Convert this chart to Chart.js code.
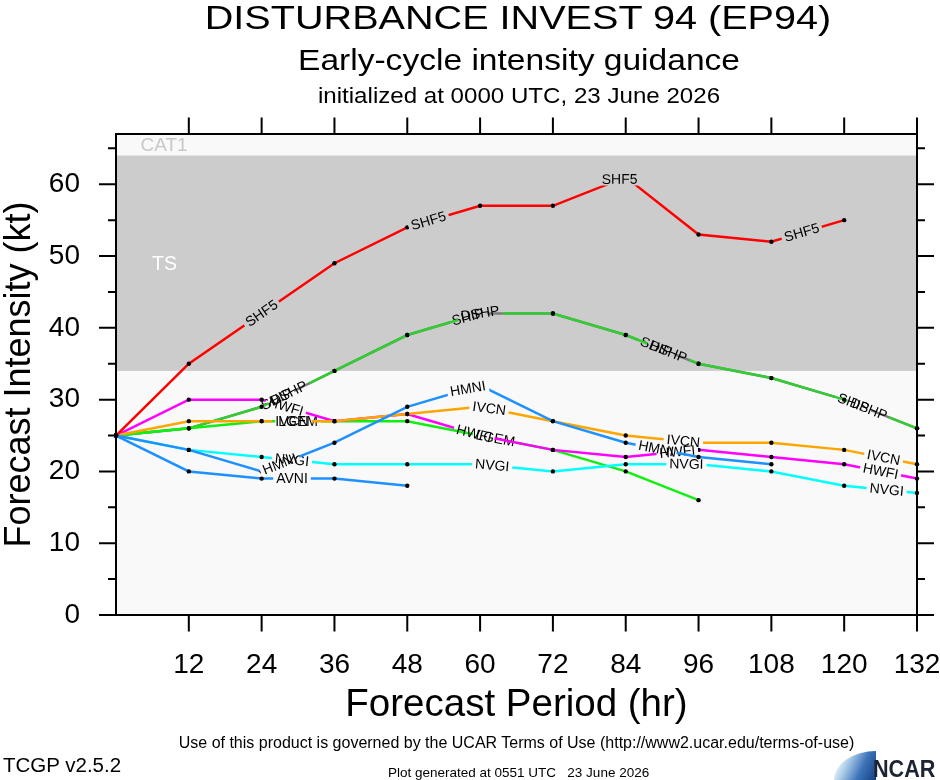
<!DOCTYPE html>
<html><head><meta charset="utf-8">
<script src="https://cdn.jsdelivr.net/npm/chart.js@4.4.1/dist/chart.umd.min.js"></script>
<style>
html,body{margin:0;padding:0;background:#fff;}
#wrap{position:relative;width:940px;height:780px;overflow:hidden;font-family:"Liberation Sans",Arial,Helvetica,sans-serif;color:#000;}
canvas{position:absolute;left:0;top:0;}
.t{position:absolute;white-space:pre;line-height:1;}
.c{transform-origin:50% 50%;}
</style></head><body>
<div id="wrap">
<canvas id="c" width="940" height="780"></canvas>
<div class="t c" style="left:518px;top:1.4px;font-size:33px;transform:translateX(-50%) scaleX(1.2);">DISTURBANCE INVEST 94 (EP94)</div>
<div class="t c" style="left:519px;top:46.2px;font-size:29px;transform:translateX(-50%) scaleX(1.157);">Early-cycle intensity guidance</div>
<div class="t c" style="left:519px;top:84.7px;font-size:22px;transform:translateX(-50%) scaleX(1.096);">initialized at 0000 UTC, 23 June 2026</div>
<div class="t c" style="left:516.5px;top:734.5px;font-size:16px;transform:translateX(-50%);">Use of this product is governed by the UCAR Terms of Use (http://www2.ucar.edu/terms-of-use)</div>
<div class="t" style="left:3px;top:754.6px;font-size:20.5px;">TCGP v2.5.2</div>
<div class="t" style="left:388px;top:765.6px;font-size:13.5px;">Plot generated at 0551 UTC   23 June 2026</div>
<div style="position:absolute;left:834px;top:751px;width:42px;height:29px;border-top-left-radius:42px 29px;background:linear-gradient(115deg,rgba(255,255,255,0) 10%,#a9cbe8 35%,#3d74b8 65%,#143f80 100%);"></div>
<div class="t" style="left:873px;top:757.2px;font-size:24px;font-weight:bold;color:#1c2433;transform:scaleX(0.9);transform-origin:0 50%;">NCAR</div>
</div>
<script>
// ---- data ----
const hours = [0, 12, 24, 36, 48, 60, 72, 84, 96, 108, 120, 132];
const xTickLabels = [12, 24, 36, 48, 60, 72, 84, 96, 108, 120, 132];
const yTickLabels = [0, 10, 20, 30, 40, 50, 60];
const SHIP = [25, 26, 29, 34, 39, 42, 42, 39, 35, 33, 30, 26];
const DSHP = [25, 26, 29, 34, 39, 42, 42, 39, 35, 33, 30, 26];
const LGEM = [25, 26, 27, 27, 27, 25, 23, 20, 16, null, null, null];
const HWFI = [25, 30, 30, 27, 28, 25, 23, 22, 23, 22, 21, 19];
const IVCN = [25, 27, 27, 27, 28, 29, 27, 25, 24, 24, 23, 21];
const NVGI = [25, 23, 22, 21, 21, 21, 20, 21, 21, 20, 18, 17];
const AVNI = [25, 20, 19, 19, 18, null, null, null, null, null, null, null];
const HMNI = [25, 23, 20, 24, 29, 32, 27, 24, 22, 21, null, null];
const SHF5 = [25, 35, 42, 49, 54, 57, 57, 61, 53, 52, 55, null];
const bandTS = [34, 64];

// ---- styles / label placement (not data) ----
const FAMILY = "'Liberation Sans', Arial, Helvetica, sans-serif";
const series = [
  {name: 'SHIP', values: SHIP, color: '#7a7a7a', labels: [26.5, 58, 89, 121.5]},
  {name: 'DSHP', values: DSHP, color: '#33cc33', labels: [28.5, 60, 91, 124]},
  {name: 'LGEM', values: LGEM, color: '#11ee11', labels: [30, 62.5]},
  {name: 'HWFI', values: HWFI, color: '#ff00ff', labels: [28, 59, 92.5, 126]},
  {name: 'IVCN', values: IVCN, color: '#ffa500', labels: [29, 61.5, 93.5, 126.5]},
  {name: 'NVGI', values: NVGI, color: '#00ffff', labels: [29, 62, 94, 127]},
  {name: 'AVNI', values: AVNI, color: '#1e90ff', labels: [29]},
  {name: 'HMNI', values: HMNI, color: '#1e90ff', labels: [27, 58, 89]},
  {name: 'SHF5', values: SHF5, color: '#ff0000', labels: [24, 51.5, 83, 113]}
];

const datasets = series.map((s, i) => ({
  label: s.name,
  data: hours.map((h, j) => ({x: h, y: s.values[j]})),
  borderColor: s.color,
  backgroundColor: s.color,
  borderWidth: 2.5,
  tension: 0,
  fill: false,
  pointRadius: 2.2,
  pointBackgroundColor: '#000',
  pointBorderWidth: 0,
  pointHoverRadius: 0,
  clip: false,
  order: series.length - i,
  labelHours: s.labels
}));

const LABEL_FONT = "14px " + FAMILY;

function yAt(pts, x) {
  if (x <= pts[0].x) return pts[0].y;
  for (let i = 0; i < pts.length - 1; i++) {
    if (x >= pts[i].x && x <= pts[i + 1].x) {
      const t = (x - pts[i].x) / (pts[i + 1].x - pts[i].x);
      return pts[i].y + t * (pts[i + 1].y - pts[i].y);
    }
  }
  return pts[pts.length - 1].y;
}

function labelGeometry(chart, meta, ds) {
  const ctx = chart.ctx;
  const xs = chart.scales.x;
  const pts = meta.data.filter(p => !p.skip).map(p => ({x: p.x, y: p.y}));
  ctx.save();
  ctx.font = LABEL_FONT;
  const w = ctx.measureText(ds.label).width;
  ctx.restore();
  return ds.labelHours.map(h => {
    const cx = xs.getPixelForValue(h);
    const cy = yAt(pts, cx);
    let a = 0;
    for (let k = 0; k < 3; k++) {
      const d = (w / 2) * Math.cos(a);
      a = Math.atan2(yAt(pts, cx + d) - yAt(pts, cx - d), 2 * d);
    }
    return {cx, cy, a, w, W: w + 6, H: 12, text: ds.label};
  });
}

const gapLabels = {
  id: 'gapLabels',
  beforeDatasetDraw(chart, args) {
    const ds = chart.data.datasets[args.index];
    const labs = labelGeometry(chart, args.meta, ds);
    args.meta._labs = labs;
    const ctx = chart.ctx;
    ctx.save();
    ctx.beginPath();
    ctx.rect(0, 0, chart.width, chart.height);
    labs.forEach(L => {
      const c = Math.cos(L.a), s = Math.sin(L.a);
      const corners = [[-L.W / 2, -L.H / 2], [L.W / 2, -L.H / 2], [L.W / 2, L.H / 2], [-L.W / 2, L.H / 2]];
      corners.forEach(([dx, dy], k) => {
        const x = L.cx + dx * c - dy * s, y = L.cy + dx * s + dy * c;
        if (k === 0) ctx.moveTo(x, y); else ctx.lineTo(x, y);
      });
      ctx.closePath();
    });
    ctx.clip('evenodd');
  },
  afterDatasetDraw(chart, args) {
    const ctx = chart.ctx;
    ctx.restore();
    const labs = args.meta._labs || [];
    ctx.save();
    ctx.font = LABEL_FONT;
    ctx.fillStyle = '#000';
    ctx.textAlign = 'center';
    ctx.textBaseline = 'middle';
    labs.forEach(L => {
      ctx.save();
      ctx.translate(L.cx, L.cy);
      ctx.rotate(L.a);
      ctx.fillText(L.text, 0, 0.5);
      ctx.restore();
    });
    ctx.restore();
  }
};

const backdrop = {
  id: 'backdrop',
  beforeDatasetsDraw(chart) {
    const {ctx, chartArea: a, scales: {y}} = chart;
    ctx.save();
    ctx.fillStyle = '#f9f9f9';
    ctx.fillRect(a.left, a.top, a.right - a.left, a.bottom - a.top);
    const y1 = y.getPixelForValue(bandTS[1]), y0 = y.getPixelForValue(bandTS[0]);
    ctx.fillStyle = '#cccccc';
    ctx.fillRect(a.left, y1, a.right - a.left, y0 - y1);
    ctx.font = "19.5px " + FAMILY;
    ctx.textBaseline = 'alphabetic';
    ctx.fillStyle = '#ffffff';
    ctx.fillText('TS', 152, 270);
    ctx.font = "19px " + FAMILY;
    ctx.fillStyle = '#c8c8c8';
    ctx.fillText('CAT1', 140.5, 151);
    ctx.restore();
  },
  afterDatasetsDraw(chart) {
    const {ctx, chartArea: a, scales: {x, y}} = chart;
    ctx.save();
    ctx.strokeStyle = '#000';
    ctx.lineWidth = 2;
    ctx.strokeRect(a.left, a.top, a.right - a.left, a.bottom - a.top);
    ctx.beginPath();
    xTickLabels.forEach(h => {
      const px = x.getPixelForValue(h);
      ctx.moveTo(px, a.bottom); ctx.lineTo(px, a.bottom + 16.5);
      ctx.moveTo(px, a.top); ctx.lineTo(px, a.top - 16.5);
    });
    for (let v = 0; v <= 65; v += 5) {
      const py = y.getPixelForValue(v);
      const len = (v % 10 === 0) ? 17 : 8;
      ctx.moveTo(a.left, py); ctx.lineTo(a.left - len, py);
      ctx.moveTo(a.right, py); ctx.lineTo(a.right + len, py);
    }
    ctx.stroke();
    ctx.restore();
  }
};

Chart.defaults.font.family = FAMILY;
new Chart(document.getElementById('c'), {
  type: 'line',
  data: {datasets},
  options: {
    responsive: false,
    devicePixelRatio: 1,
    animation: false,
    events: [],
    layout: {padding: {left: 0, right: 23, top: 134, bottom: 0}},
    plugins: {legend: {display: false}, title: {display: false}, tooltip: {enabled: false}},
    scales: {
      x: {
        type: 'linear', min: 0, max: 132,
        grid: {display: false, drawTicks: false},
        border: {display: false},
        afterBuildTicks: s => { s.ticks = xTickLabels.map(v => ({value: v})); },
        ticks: {autoSkip: false, maxRotation: 0, minRotation: 0, padding: 33, color: '#000',
                font: {size: 28, family: FAMILY}},
        title: {display: true, text: 'Forecast Period (hr)', color: '#000',
                font: {size: 38.5, family: FAMILY, lineHeight: 1}, padding: {top: 0, bottom: 55}},
        afterFit: s => { s.height = 165; s.paddingLeft = 0; s.paddingRight = 0; }
      },
      y: {
        type: 'linear', min: 0, max: 67,
        grid: {display: false, drawTicks: false},
        border: {display: false},
        afterBuildTicks: s => { s.ticks = yTickLabels.map(v => ({value: v})); },
        ticks: {padding: 36, color: '#000', font: {size: 28, family: FAMILY}},
        title: {display: true, text: 'Forecast Intensity (kt)', color: '#000',
                font: {size: 36, family: FAMILY, lineHeight: 1}, padding: {top: 2.5, bottom: 0}},
        afterFit: s => { s.width = 116; s.paddingTop = 0; s.paddingBottom = 0; }
      }
    }
  },
  plugins: [backdrop, gapLabels]
});
</script>
</body></html>
